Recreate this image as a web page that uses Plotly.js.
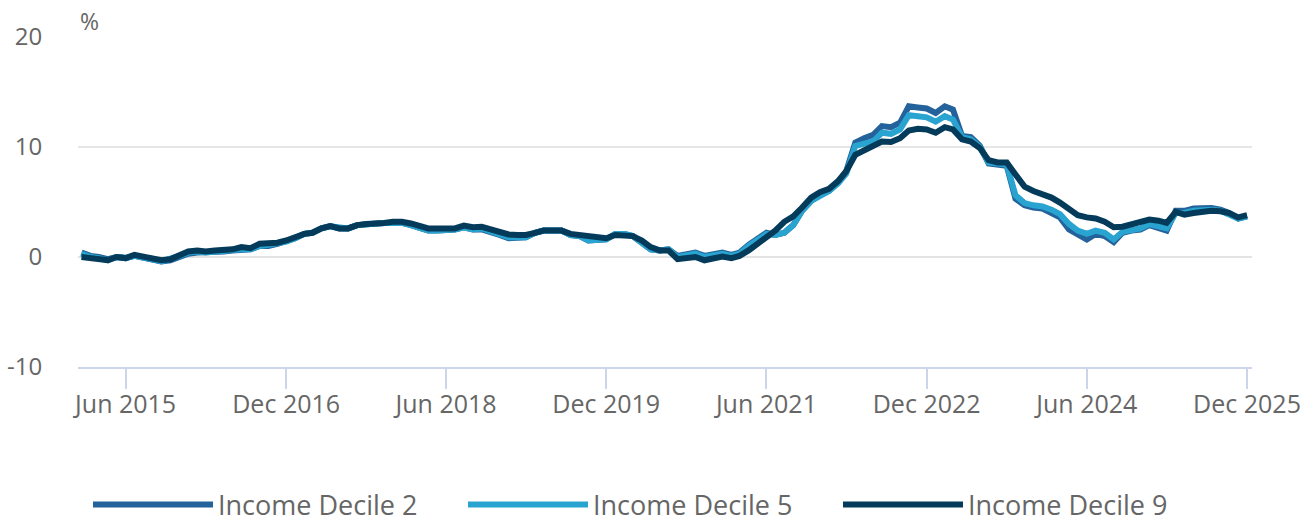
<!DOCTYPE html>
<html>
<head>
<meta charset="utf-8">
<script src="https://cdn.plot.ly/plotly-3.0.1.min.js"></script>
<style>
html,body{margin:0;padding:0;background:#fff;}
#chart{width:1313px;height:522px;}
</style>
</head>
<body>
<div id="chart"></div>
<script>
// Monthly values, Jan 2015 .. Dec 2025 (%)
const startYear = 2015, startMonth = 1, nMonths = 132;
const seriesNames = ["Income Decile 2", "Income Decile 5", "Income Decile 9"];

const decile2 = [
  0.4, 0.1, 0.0, -0.2, 0.0, -0.1, 0.1, -0.1, -0.2, -0.4, -0.3, 0.0,
  0.3, 0.4, 0.4, 0.5, 0.5, 0.6, 0.7, 0.7, 1.0, 1.0, 1.2, 1.4,
  1.7, 2.1, 2.2, 2.6, 2.8, 2.6, 2.6, 2.9, 3.0, 3.0, 3.1, 3.1,
  3.1, 2.9, 2.6, 2.4, 2.4, 2.4, 2.5, 2.7, 2.5, 2.5, 2.3, 2.0,
  1.7, 1.7, 1.8, 2.2, 2.4, 2.4, 2.4, 2.0, 1.9, 1.5, 1.5, 1.6,
  2.1, 2.1, 1.9, 1.3, 0.7, 0.6, 0.7, 0.1, 0.3, 0.4, 0.1, 0.2,
  0.4, 0.2, 0.4, 1.1, 1.7, 2.2, 2.0, 2.2, 2.9, 4.2, 5.1, 5.7,
  6.0, 6.8, 7.8, 10.4, 10.8, 11.1, 11.9, 11.8, 12.2, 13.7, 13.6, 13.5,
  13.1, 13.7, 13.4, 11.0, 10.9, 10.1, 8.5, 8.4, 8.3, 5.3, 4.7, 4.5,
  4.4, 4.0, 3.6, 2.5, 2.0, 1.6, 2.1, 1.9, 1.35, 2.2, 2.4, 2.5,
  2.9, 2.7, 2.4, 4.2, 4.2, 4.4, 4.45, 4.45, 4.3, 4.0, 3.5, 3.7
];
const decile5 = [
  0.3, 0.0, -0.1, -0.3, 0.0, -0.1, 0.1, 0.0, -0.2, -0.4, -0.2, 0.1,
  0.4, 0.5, 0.4, 0.5, 0.5, 0.6, 0.7, 0.7, 1.0, 1.1, 1.2, 1.4,
  1.7, 2.1, 2.2, 2.6, 2.8, 2.7, 2.6, 2.9, 3.0, 3.0, 3.1, 3.1,
  3.1, 2.9, 2.6, 2.4, 2.4, 2.4, 2.5, 2.7, 2.5, 2.6, 2.3, 2.1,
  1.8, 1.8, 1.8, 2.2, 2.4, 2.4, 2.4, 2.0, 1.9, 1.5, 1.5, 1.6,
  2.1, 2.1, 1.9, 1.3, 0.7, 0.6, 0.7, 0.0, 0.2, 0.3, 0.0, 0.1,
  0.3, 0.1, 0.3, 1.0, 1.6, 2.1, 2.0, 2.2, 2.9, 4.2, 5.1, 5.6,
  6.0, 6.7, 7.6, 10.1, 10.3, 10.5, 11.3, 11.2, 11.6, 12.9, 12.8, 12.7,
  12.3, 12.8, 12.5, 10.9, 10.7, 10.0, 8.6, 8.5, 8.4, 5.6, 4.9, 4.7,
  4.6, 4.3, 3.9, 3.0, 2.4, 2.1, 2.4, 2.2, 1.6, 2.3, 2.5, 2.6,
  3.0, 2.8, 2.6, 4.0, 4.0, 4.2, 4.3, 4.3, 4.2, 3.9, 3.5, 3.7
];
const decile9 = [
  0.0, -0.1, -0.2, -0.3, 0.0, -0.1, 0.2, 0.0, -0.1, -0.3, -0.2, 0.2,
  0.5, 0.6, 0.5, 0.6, 0.6, 0.7, 0.9, 0.8, 1.2, 1.2, 1.3, 1.5,
  1.8, 2.1, 2.2, 2.6, 2.8, 2.6, 2.6, 2.9, 3.0, 3.0, 3.1, 3.2,
  3.2, 3.05, 2.8, 2.6, 2.6, 2.6, 2.6, 2.85, 2.7, 2.75, 2.5, 2.2,
  2.05, 2.0, 2.0, 2.2, 2.4, 2.4, 2.4, 2.1, 2.0, 1.8, 1.7, 1.7,
  2.0, 2.0, 1.9, 1.5, 0.9, 0.6, 0.6, -0.2, -0.15, 0.0, -0.3, -0.1,
  0.05, -0.1, 0.1, 0.6, 1.2, 1.8, 2.4, 3.2, 3.7, 4.5, 5.4, 5.9,
  6.2, 6.9, 7.8, 9.3, 9.7, 10.0, 10.5, 10.45, 10.8, 11.5, 11.65, 11.6,
  11.3, 11.8, 11.6, 10.7, 10.5, 9.9, 8.8, 8.6, 8.6, 7.5, 6.4, 6.0,
  5.75, 5.4, 4.95, 4.3, 3.8, 3.6, 3.5, 3.2, 2.7, 2.75, 2.95, 3.1,
  3.4, 3.3, 3.1, 4.1, 3.85, 4.0, 4.1, 4.2, 4.15, 4.0, 3.6, 3.8
];
const seriesColors = ["#23629b", "#29a3cf", "#043b5a"];
const yTickVals = [-10, 0, 10, 20];

const months = [];
for (let k = 0; k < nMonths; k++) {
  const y = startYear + Math.floor((startMonth - 1 + k) / 12);
  const m = ((startMonth - 1 + k) % 12) + 1;
  months.push(y + "-" + String(m).padStart(2, "0") + "-01");
}

const values = [decile2, decile5, decile9];
const traces = values.map((v, i) => ({
  type: "scatter",
  mode: "lines",
  x: months,
  y: v,
  name: seriesNames[i],
  line: {color: seriesColors[i], width: 6},
  hoverinfo: "x+y+name"
}));

const fontFam = "'Open Sans', 'Noto Sans', sans-serif";
const layout = {
  width: 1313,
  height: 522,
  margin: {l: 78, r: 61, t: 37, b: 155},
  paper_bgcolor: "#ffffff",
  plot_bgcolor: "#ffffff",
  font: {family: fontFam, color: "#666666", size: 24},
  showlegend: true,
  xaxis: {
    type: "date",
    range: ["2014-12-20", "2025-12-18"],
    tick0: "2015-06-01",
    dtick: "M18",
    tickformat: "%b %Y",
    showgrid: false,
    zeroline: false,
    showline: true,
    linecolor: "#cbd6ea",
    linewidth: 2,
    ticks: "outside",
    ticklen: 20,
    tickwidth: 2,
    tickcolor: "#cbd6ea",
    ticklabelstandoff: -6,
    tickfont: {size: 25, color: "#666666", family: fontFam}
  },
  yaxis: {
    range: [-10, 20],
    tickvals: yTickVals,
    ticktext: yTickVals.map(String),
    showgrid: true,
    gridcolor: "#e6e6e6",
    gridwidth: 2,
    zeroline: true,
    zerolinecolor: "#e3e3e3",
    zerolinewidth: 2,
    showline: false,
    ticks: "outside",
    ticklen: 30,
    tickcolor: "rgba(0,0,0,0)",
    tickfont: {size: 24, color: "#666666", family: fontFam}
  },
  legend: {
    orientation: "h",
    xref: "container",
    yref: "container",
    x: 88 / 1313,
    xanchor: "left",
    y: 17 / 522,
    yanchor: "middle",
    itemwidth: 120,
    entrywidth: 240,
    entrywidthmode: "pixels",
    font: {size: 27, color: "#666666", family: fontFam},
    traceorder: "normal"
  },
  annotations: [{
    xref: "paper", yref: "paper",
    x: 0, y: 1,
    xanchor: "left", yanchor: "bottom",
    text: "%",
    showarrow: false,
    font: {size: 23, color: "#666666", family: fontFam},
    xshift: 0, yshift: -2
  }]
};

Plotly.newPlot("chart", traces, layout, {displayModeBar: false, staticPlot: false});
</script>
</body>
</html>
